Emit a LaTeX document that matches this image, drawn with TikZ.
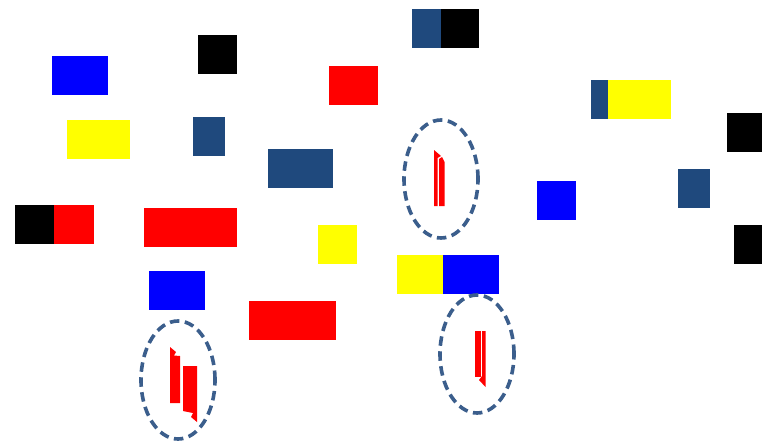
\documentclass[tikz,border=0pt]{standalone}
\usetikzlibrary{shapes.geometric}
\definecolor{dkblue}{HTML}{1F497D}
\definecolor{ringblue}{HTML}{3B5E8C}
\definecolor{pblue}{HTML}{0000FF}
\definecolor{pred}{HTML}{FF0000}
\definecolor{pyellow}{HTML}{FFFF00}
\tikzset{
  blk/.style={rectangle, inner sep=0pt, outer sep=0pt, minimum height=39pt, draw=none},
  ring/.style={ellipse, draw=ringblue, line width=3.6pt, dash pattern=on 9.5pt off 5.5pt, minimum width=74pt, minimum height=118pt, inner sep=0pt},
  flag/.style={fill=pred, draw=none}
}
\begin{document}
\begin{tikzpicture}[x=1pt,y=-1pt]
\useasboundingbox[fill=white] (0,0) rectangle (762,441);
% rectangles
\node[blk, fill=pblue, minimum width=56pt] (b1) at (80,75.5) {};
\node[blk, fill=black, minimum width=39pt] (k1) at (217.5,54.5) {};
\node[blk, fill=dkblue, minimum width=29pt] (d1) at (426.5,28.5) {};
\node[blk, fill=black, minimum width=38pt] (k2) at (460,28.5) {};
\node[blk, fill=pred, minimum width=49pt] (r1) at (353.5,85.5) {};
\node[blk, fill=dkblue, minimum width=17pt] (d2) at (599.5,99.5) {};
\node[blk, fill=pyellow, minimum width=63pt] (y1) at (639.5,99.5) {};
\node[blk, fill=black, minimum width=35pt] (k3) at (744.5,132.5) {};
\node[blk, fill=pyellow, minimum width=63pt] (y2) at (98.5,139.5) {};
\node[blk, fill=dkblue, minimum width=32pt] (d3) at (209,136.5) {};
\node[blk, fill=dkblue, minimum width=65pt] (d4) at (300.5,168.5) {};
\node[blk, fill=pblue, minimum width=39pt] (b2) at (556.5,200.5) {};
\node[blk, fill=dkblue, minimum width=32pt] (d5) at (694,188.5) {};
\node[blk, fill=black, minimum width=39pt] (k4) at (34.5,224.5) {};
\node[blk, fill=pred, minimum width=40pt] (r2) at (74,224.5) {};
\node[blk, fill=pred, minimum width=93pt] (r3) at (190.5,227.5) {};
\node[blk, fill=pyellow, minimum width=39pt] (y3) at (337.5,244.5) {};
\node[blk, fill=black, minimum width=28pt] (k5) at (748,244.5) {};
\node[blk, fill=pyellow, minimum width=46pt] (y4) at (420,274.5) {};
\node[blk, fill=pblue, minimum width=56pt] (b3) at (471,274.5) {};
\node[blk, fill=pblue, minimum width=56pt] (b4) at (177,290.5) {};
\node[blk, fill=pred, minimum width=87pt] (r4) at (292.5,320.5) {};
% dashed rings
\node[ring] (eA) at (441,179) {};
\node[ring] (eB) at (178,380) {};
\node[ring] (eC) at (477,354) {};
% red marks inside ring A
\fill[flag] (434,206) -- (434,150) -- (441,156) -- (437.5,158) -- (437.5,206) -- cycle;
\fill[flag] (439,206) -- (439,159) -- (442,157) -- (444.5,162) -- (444.5,206) -- cycle;
% red marks inside ring B
\fill[flag] (170,347) -- (176,352) -- (174,355.5) -- (180,356) -- (180,403) -- (170,403) -- cycle;
\fill[flag] (183,366) -- (197,366) -- (197,422) -- (191,417) -- (193,413) -- (183,411) -- cycle;
% red marks inside ring C
\fill[flag] (475,331) -- (481,331) -- (481,377) -- (475,377) -- cycle;
\fill[flag] (482,331) -- (485.5,331) -- (485.5,387) -- (479,380) -- (482,376) -- cycle;
\end{tikzpicture}
\end{document}
